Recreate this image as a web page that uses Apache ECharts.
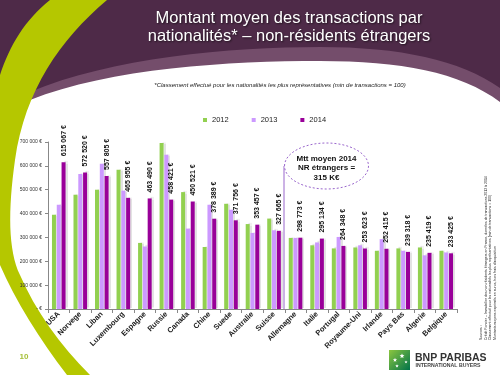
<!DOCTYPE html>
<html>
<head>
<meta charset="utf-8">
<script src="https://cdn.jsdelivr.net/npm/echarts/dist/echarts.min.js"></script>
<style>
html,body{margin:0;padding:0;background:#fff;}
#chart{width:500px;height:375px;}
</style>
</head>
<body>
<div id="chart"></div>
<script>
const categories = ['USA','Norvege','Liban','Luxembourg','Espagne','Russie','Canada','Chine','Suede','Australie','Suisse','Allemagne','Italie','Portugal','Royaume-Uni','Irlande','Pays Bas','Algerie','Belgique'];
const values2012 = [395000,479000,500000,584000,277000,696000,490000,260000,441000,356000,379000,298000,267000,254000,258000,244000,254000,258000,244000];
const values2013 = [437000,566000,609000,496000,262000,647000,337000,437000,416000,319000,330000,298000,279000,302000,267000,293000,244000,225000,237000];
const values2014 = [615067,572520,557805,465955,463490,458421,450521,378389,371756,353457,327665,298773,295134,264348,253623,252415,239318,235419,233425];
const seriesNames = ['2012','2013','2014'];

function fmt(n){
  if (n === 0) return '- €';
  return String(Math.round(n)).replace(/\B(?=(\d{3})+(?!\d))/g, ' ') + ' €';
}

// decorative slide shapes
const PATHS = {
  hdrLight: 'M500,0 L500,102 C460,72 400,61 320,61 C230,61 110,68 30,100 L0,112 L0,0 Z',
  hdrDark: 'M500,0 L500,88 C460,60 400,47 320,47 C230,47 110,58 30,92 L0,104 L0,0 Z',
  swoosh: 'M50,0 L107,0 C60,40 25,90 15,160 C8,210 8,250 20,275 C35,310 60,345 90,375 L67,375 C40,340 15,300 0,265 L0,75 C10,45 25,20 50,0 Z'
};
Object.keys(PATHS).forEach(function(k){
  echarts.graphic.registerShape(k, echarts.graphic.extendPath(PATHS[k], {}));
});

const chart = echarts.init(document.getElementById('chart'), null, {renderer:'canvas'});
const barShadow = {shadowColor:'rgba(0,0,0,0.11)', shadowBlur:1, shadowOffsetX:2, shadowOffsetY:-1};
const colors = ['#92d050','#cc99ff','#990099'];
const FF = 'Liberation Sans, Arial, sans-serif';

function star(cx, cy, r){
  const pts = [];
  for (let i = 0; i < 10; i++){
    const a = -Math.PI/2 + i*Math.PI/5;
    const rr = i % 2 === 0 ? r : r*0.45;
    pts.push([cx + rr*Math.cos(a), cy + rr*Math.sin(a)]);
  }
  return pts;
}

const option = {
  animation:false,
  color: colors,
  title:[
    {text:'Montant moyen des transactions par\nnationalités* – non-résidents étrangers',
     left:284, top:4, textAlign:'center',
     textStyle:{color:'#fff', fontSize:16.5, fontWeight:'normal', fontFamily:FF, lineHeight:18,
       textShadowColor:'rgba(0,0,0,0.6)', textShadowBlur:2, textShadowOffsetX:1, textShadowOffsetY:1}},
    {text:'*Classement effectué pour les nationalités les plus représentatives (min de transactions = 100)',
     left:275, top:77, textAlign:'center',
     textStyle:{color:'#222', fontSize:6, fontStyle:'italic', fontWeight:'normal', fontFamily:FF}}
  ],
  legend:{
    data:seriesNames, left:198, top:111, itemWidth:4, itemHeight:4, itemGap:23, icon:'rect',
    textStyle:{fontSize:7.5, color:'#222', fontFamily:FF}
  },
  grid:{left:48, right:43, top:142, bottom:66, containLabel:false},
  xAxis:{
    type:'category', data:categories,
    axisLine:{lineStyle:{color:'#888', width:1}},
    axisTick:{show:true, alignWithLabel:false, length:4, lineStyle:{color:'#888'}},
    axisLabel:{interval:0, rotate:45, fontSize:7.5, fontWeight:'bold', color:'#222', margin:4, fontFamily:FF}
  },
  yAxis:{
    type:'value', min:0, max:700000, interval:100000,
    axisLine:{show:true, lineStyle:{color:'#888', width:1}},
    axisTick:{show:true, length:3, lineStyle:{color:'#888'}},
    splitLine:{show:false},
    axisLabel:{fontSize:5, color:'#333', margin:6, formatter:function(v){return fmt(v);}, fontFamily:FF}
  },
  series:[
    {name:seriesNames[0], type:'bar', data:values2012, barWidth:4, barGap:'20%', itemStyle:Object.assign({color:colors[0]}, barShadow)},
    {name:seriesNames[1], type:'bar', data:values2013, barWidth:4, barGap:'20%', itemStyle:Object.assign({color:colors[1]}, barShadow)},
    {name:seriesNames[2], type:'bar', data:values2014, barWidth:4, barGap:'20%', itemStyle:Object.assign({color:colors[2]}, barShadow),
     label:{show:true, position:'top', rotate:90, align:'left', verticalAlign:'middle', distance:6,
       fontSize:7, fontWeight:'bold', color:'#111', fontFamily:FF,
       formatter:function(p){return fmt(p.value);}}}
  ],
  graphic:[
    {type:'hdrLight', z:-10, shape:{}, style:{fill:'#744d6b'}},
    {type:'hdrDark', z:-9, shape:{}, style:{fill:'#4e2a48'}},
    {type:'swoosh', z:-8, shape:{}, style:{fill:'#b5c700'}},
    {type:'line', z:5, shape:{x1:284, y1:166, x2:284, y2:309}, style:{stroke:'#9966cc', lineWidth:1}},
    {type:'ellipse', z:5, shape:{cx:326.5, cy:166, rx:42, ry:23}, style:{fill:'#fff', stroke:'#9966cc', lineWidth:1, lineDash:[2,2]}},
    {type:'text', z:6, x:326.5, y:154, style:{text:'Mtt moyen 2014\nNR étrangers =\n315 K€', fill:'#111', fontSize:8, fontWeight:'bold', lineHeight:9.5, align:'center', verticalAlign:'top', fontFamily:FF}},
    {type:'text', z:6, x:24, y:357, style:{text:'10', fill:'#a6c03a', fontSize:8, fontWeight:'bold', align:'center', verticalAlign:'middle', fontFamily:FF}},
    {type:'text', z:6, x:479, y:340, rotation:Math.PI/2, style:{text:'Sources :\nCrédit Foncier – Immobilier des non-résidents étrangers en France, données de transactions 2012 à 2014\nClassement effectué pour les nationalités les plus représentatives (min de transactions = 100)\nMontants moyens exprimés en euros, hors frais d\'acquisition', fill:'#222', fontSize:3.5, lineHeight:4.5, align:'left', verticalAlign:'top', fontFamily:FF}},
    {type:'rect', z:6, shape:{x:389, y:350, width:21, height:20}, style:{fill:new echarts.graphic.LinearGradient(0,0,1,1,[{offset:0,color:'#8cc63f'},{offset:1,color:'#00734a'}])}},
    {type:'polygon', z:7, shape:{points:star(402,356,2.6)}, style:{fill:'#fff'}},
    {type:'polygon', z:7, shape:{points:star(395,360,2.2)}, style:{fill:'#fff'}},
    {type:'polygon', z:7, shape:{points:star(397,366,1.8)}, style:{fill:'#fff'}},
    {type:'polygon', z:7, shape:{points:star(406,362,1.6)}, style:{fill:'#fff'}},
    {type:'text', z:6, x:415, y:358, style:{text:'BNP PARIBAS', fill:'#333', fontSize:10.5, fontWeight:'bold', align:'left', verticalAlign:'middle', fontFamily:FF}},
    {type:'text', z:6, x:415.5, y:366, style:{text:'INTERNATIONAL BUYERS', fill:'#444', fontSize:5.2, fontWeight:'bold', align:'left', verticalAlign:'middle', fontFamily:FF}}
  ]
};
chart.setOption(option);
</script>
</body>
</html>
